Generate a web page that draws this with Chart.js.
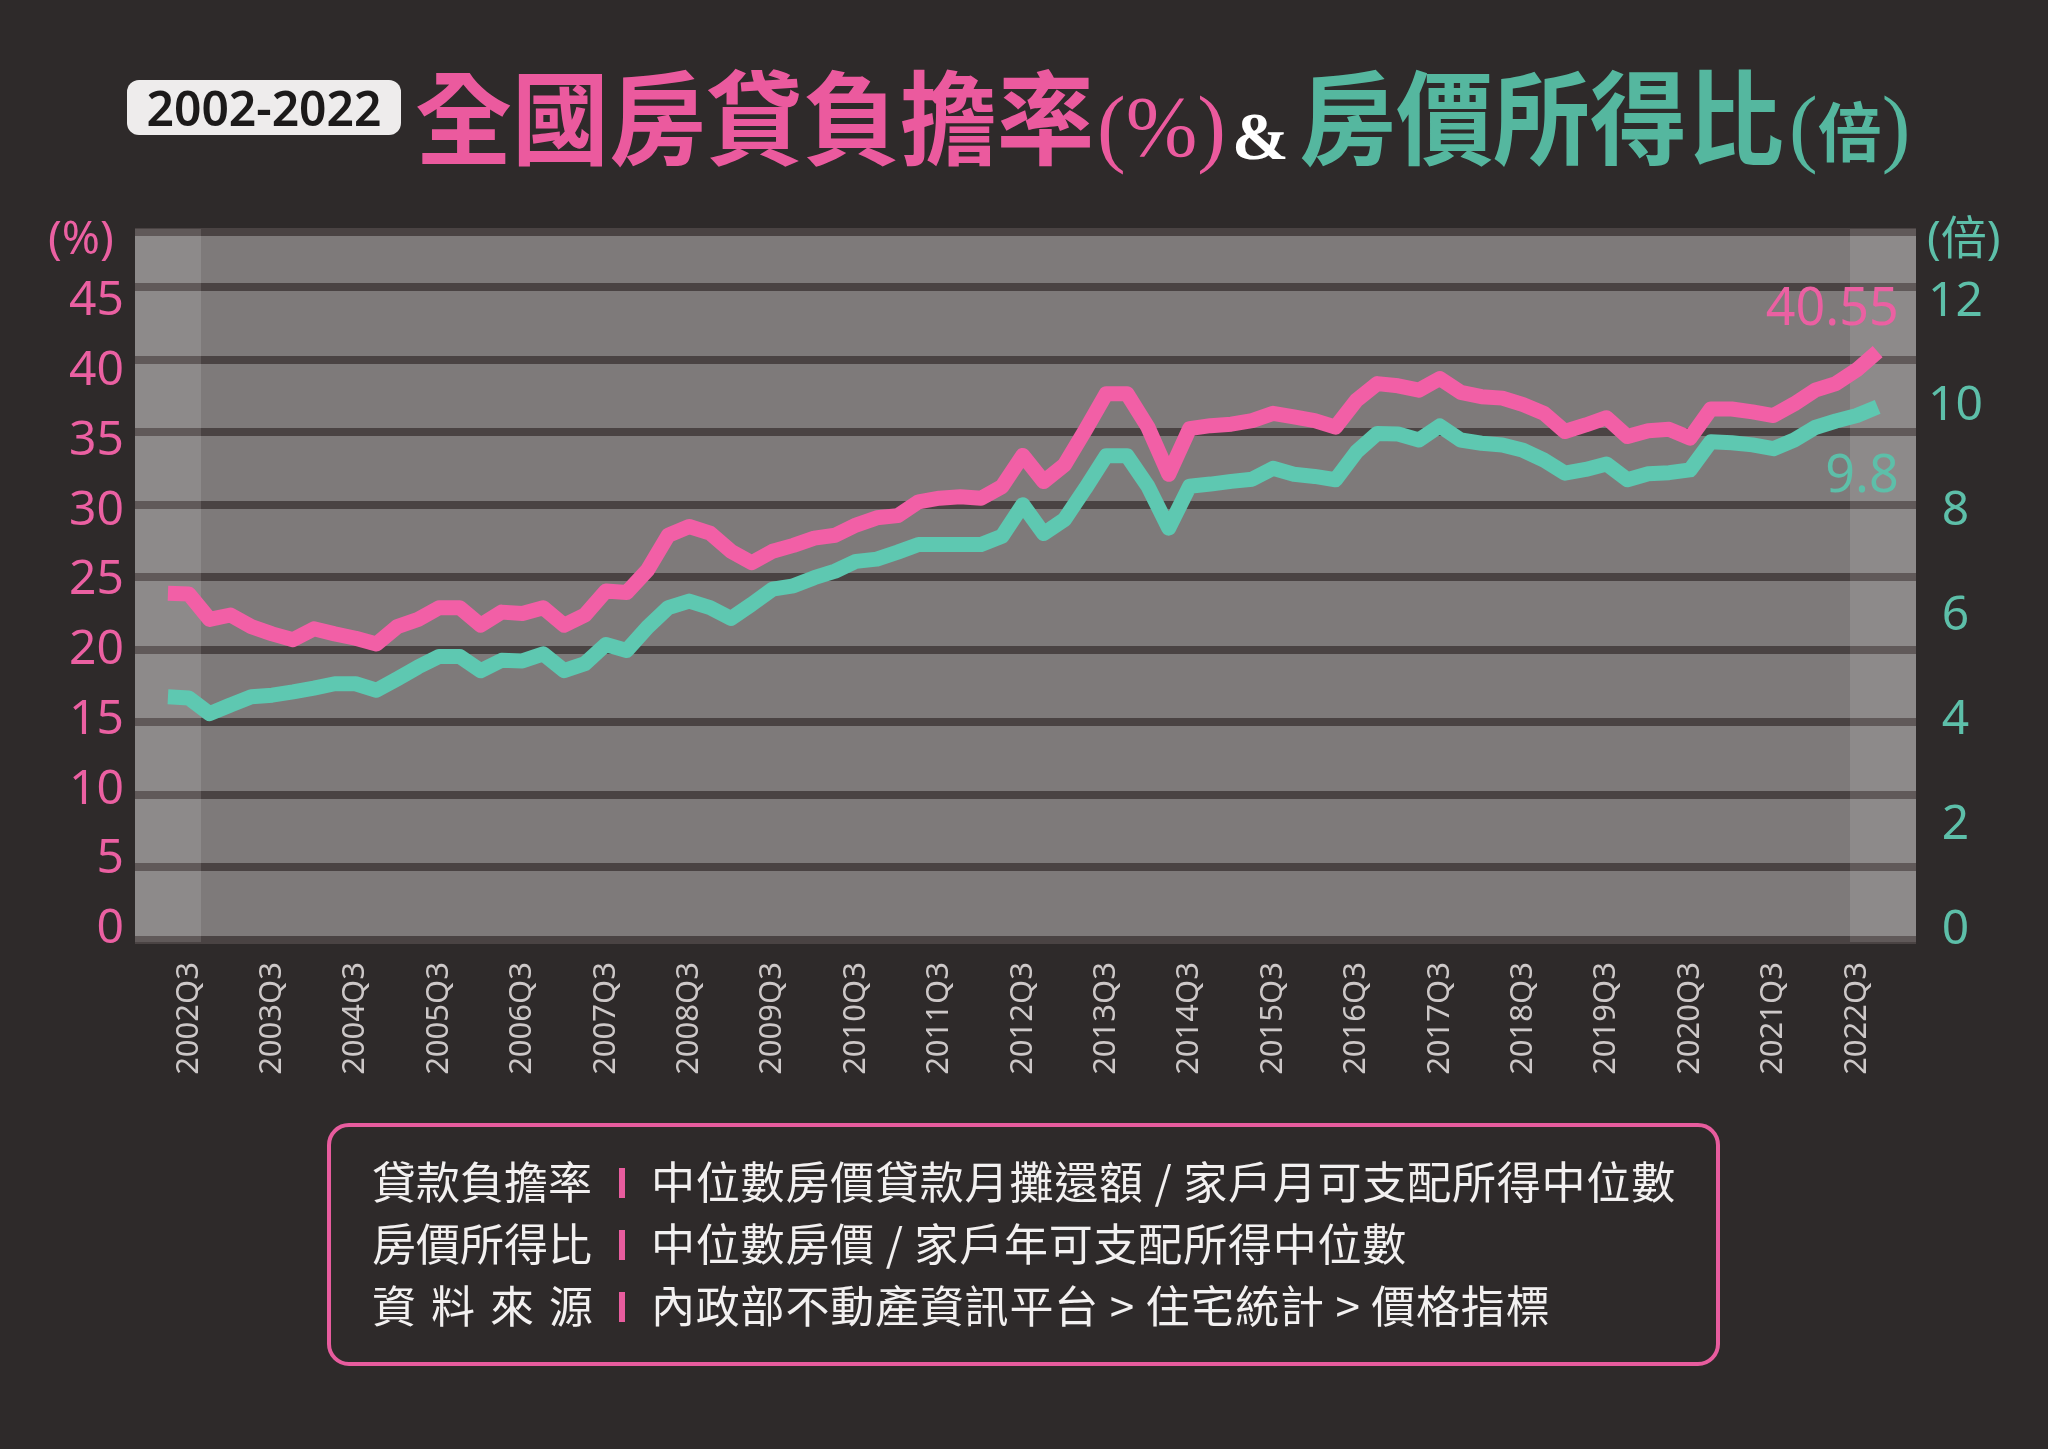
<!DOCTYPE html>
<html>
<head>
<meta charset="utf-8">
<script src="https://cdn.jsdelivr.net/npm/chart.js@4.4.1/dist/chart.umd.min.js"></script>
<style>
html,body{margin:0;padding:0;background:#2e2a2a;width:2048px;height:1449px;overflow:hidden;}
#c{position:absolute;left:0;top:0;width:2048px;height:1449px;}
.abs{position:absolute;white-space:nowrap;}
.badge{left:127px;top:80px;width:274px;height:55px;background:#eeecec;border-radius:12px;color:#1c1a1a;
  font:600 48px/55px "Noto Sans",sans-serif;text-align:center;}
.cjkT{font-family:"Noto Sans CJK TC";font-weight:700;font-size:97px;line-height:97px;transform:scaleY(1.06);transform-origin:50% 100%;}
.serif{font-family:"Liberation Serif",serif;font-size:86px;line-height:86px;}
.unit{font:46px/46px "Noto Sans","Noto Sans CJK TC",sans-serif;}
.box{left:327px;top:1123px;width:1393px;height:243px;border:4px solid #e85c9e;border-radius:22px;box-sizing:border-box;}
.row{font:44px/62px "Noto Sans CJK TC",sans-serif;color:#f2f0f0;}
.txt{letter-spacing:0.8px;}
.bar{width:6px;height:30px;background:#e85c9e;}
</style>
</head>
<body>
<canvas id="c" width="2048" height="1449"></canvas>

<div class="abs badge">2002-2022</div>
<div class="abs cjkT" style="left:415px;top:66px;color:#eb5a9e;">全國房貸負擔率</div>
<div class="abs serif" style="left:1097px;top:84px;color:#eb5a9e;">(%)</div>
<div class="abs" style="left:1232px;top:102px;color:#ffffff;font:700 68px/68px 'Liberation Serif',serif;">&amp;</div>
<div class="abs cjkT" style="left:1299px;top:66px;color:#55b79f;">房價所得比</div>
<div class="abs serif" style="left:1789px;top:84px;color:#55b79f;">(<span style="font-family:'Noto Sans CJK TC';font-size:64px;font-weight:700;">倍</span>)</div>

<div class="abs unit" style="left:48px;top:213px;color:#eb60a2;">(%)</div>
<div class="abs unit" style="left:1927px;top:213px;color:#5dbfa9;">(倍)</div>

<div class="abs box"></div>
<div class="abs row" style="left:372px;top:1149px;">貸款負擔率</div>
<div class="abs bar" style="left:619px;top:1168px;"></div>
<div class="abs row txt" style="left:651px;top:1149px;">中位數房價貸款月攤還額 / 家戶月可支配所得中位數</div>
<div class="abs row" style="left:372px;top:1211px;">房價所得比</div>
<div class="abs bar" style="left:619px;top:1230px;"></div>
<div class="abs row txt" style="left:651px;top:1211px;">中位數房價 / 家戶年可支配所得中位數</div>
<div class="abs row" style="left:372px;top:1273px;letter-spacing:15px;">資料來源</div>
<div class="abs bar" style="left:619px;top:1292px;"></div>
<div class="abs row txt" style="left:651px;top:1273px;">內政部不動產資訊平台 &gt; 住宅統計 &gt; 價格指標</div>

<script>
// ---- data ----
const quarters = [
 '2002Q2','2002Q3','2002Q4',
 '2003Q1','2003Q2','2003Q3','2003Q4',
 '2004Q1','2004Q2','2004Q3','2004Q4',
 '2005Q1','2005Q2','2005Q3','2005Q4',
 '2006Q1','2006Q2','2006Q3','2006Q4',
 '2007Q1','2007Q2','2007Q3','2007Q4',
 '2008Q1','2008Q2','2008Q3','2008Q4',
 '2009Q1','2009Q2','2009Q3','2009Q4',
 '2010Q1','2010Q2','2010Q3','2010Q4',
 '2011Q1','2011Q2','2011Q3','2011Q4',
 '2012Q1','2012Q2','2012Q3','2012Q4',
 '2013Q1','2013Q2','2013Q3','2013Q4',
 '2014Q1','2014Q2','2014Q3','2014Q4',
 '2015Q1','2015Q2','2015Q3','2015Q4',
 '2016Q1','2016Q2','2016Q3','2016Q4',
 '2017Q1','2017Q2','2017Q3','2017Q4',
 '2018Q1','2018Q2','2018Q3','2018Q4',
 '2019Q1','2019Q2','2019Q3','2019Q4',
 '2020Q1','2020Q2','2020Q3','2020Q4',
 '2021Q1','2021Q2','2021Q3','2021Q4',
 '2022Q1','2022Q2','2022Q3','2022Q4'
];

// 貸款負擔率 (%)
const loanBurden = [
 23.9, 23.85, 22.1,
 22.4, 21.6, 21.1, 20.7,
 21.45, 21.1, 20.8, 20.4,
 21.6, 22.1, 22.9, 22.9,
 21.7, 22.6, 22.5, 22.9,
 21.7, 22.4, 24.05, 23.95,
 25.5, 27.9, 28.5, 28.05,
 26.8, 26.0, 26.8, 27.2,
 27.7, 27.9, 28.6, 29.1,
 29.25, 30.2, 30.45, 30.55,
 30.45, 31.25, 33.4, 31.6,
 32.75, 35.15, 37.65, 37.65,
 35.35, 32.1, 35.25, 35.45,
 35.55, 35.8, 36.3, 36.05,
 35.8, 35.35, 37.2, 38.35,
 38.2, 37.9, 38.7, 37.75,
 37.45, 37.35, 36.9, 36.3,
 35.05, 35.5, 36.0, 34.7,
 35.1, 35.2, 34.6, 36.6,
 36.6, 36.4, 36.15, 36.95,
 37.9, 38.35, 39.3, 40.55
];

// 房價所得比 (倍)
const priceIncome = [
 4.47, 4.45, 4.16,
 4.32, 4.47, 4.5, 4.56,
 4.63, 4.71, 4.71, 4.59,
 4.8, 5.02, 5.21, 5.21,
 4.95, 5.14, 5.13, 5.26,
 4.95, 5.08, 5.43, 5.32,
 5.75, 6.11, 6.23, 6.11,
 5.91, 6.17, 6.45, 6.51,
 6.66, 6.78, 6.96, 7.0,
 7.13, 7.27, 7.27, 7.27,
 7.27, 7.42, 8.0, 7.47,
 7.73, 8.3, 8.9, 8.9,
 8.34, 7.57, 8.34, 8.38,
 8.43, 8.47, 8.67, 8.56,
 8.52, 8.46, 8.97, 9.31,
 9.3, 9.19, 9.45, 9.19,
 9.13, 9.1, 9.0, 8.82,
 8.58, 8.65, 8.75, 8.46,
 8.57, 8.59, 8.64, 9.16,
 9.14, 9.1, 9.03, 9.19,
 9.42, 9.54, 9.64, 9.8
];

const xTickQuarters = [
 '2002Q3','2003Q3','2004Q3','2005Q3','2006Q3','2007Q3','2008Q3',
 '2009Q3','2010Q3','2011Q3','2012Q3','2013Q3','2014Q3','2015Q3',
 '2016Q3','2017Q3','2018Q3','2019Q3','2020Q3','2021Q3','2022Q3'
];
const leftTickValues = [0, 5, 10, 15, 20, 25, 30, 35, 40, 45];
const rightTickValues = [0, 2, 4, 6, 8, 10, 12];

const endLabelLoan = '40.55';
const endLabelPrice = '9.8';

// ---- styles ----
const PINK = '#f25fa6', TEAL = '#5ec8b1';
const PINK_TXT = '#eb60a2', TEAL_TXT = '#5dbfa9';
const RATIO = 3.75;       // left % per right 倍
const LEFT_MAX = 48.8;    // data/grid scale top

const decor = {
  id: 'decor',
  beforeDraw(chart) {
    const {ctx, chartArea: a} = chart;
    ctx.save();
    ctx.fillStyle = '#7e7a7a';
    ctx.fillRect(a.left, a.top - 3, a.right - a.left, a.bottom - a.top + 5);
    ctx.restore();
  },
  beforeDatasetsDraw(chart) {
    const {ctx, chartArea: a} = chart;
    ctx.save();
    ctx.fillStyle = 'rgba(255,255,255,0.12)';
    ctx.fillRect(a.left, a.top - 3, 66, a.bottom - a.top + 5);
    ctx.fillRect(a.right - 66, a.top - 3, 66, a.bottom - a.top + 5);
    ctx.restore();
  },
  afterDatasetsDraw(chart) {
    const {ctx} = chart;
    const mp = chart.getDatasetMeta(1).data;
    const mt = chart.getDatasetMeta(0).data;
    const p = mp[mp.length - 1], t = mt[mt.length - 1];
    ctx.save();
    ctx.font = '52px "Noto Sans"';
    ctx.textAlign = 'right';
    ctx.textBaseline = 'alphabetic';
    ctx.fillStyle = PINK_TXT;
    ctx.fillText(endLabelLoan, p.x + 21, p.y - 27);
    ctx.fillStyle = TEAL_TXT;
    ctx.fillText(endLabelPrice, t.x + 21, t.y + 85);
    ctx.restore();
  }
};

const lineStyle = {borderWidth: 15, pointRadius: 0, tension: 0, borderJoinStyle: 'round', borderCapStyle: 'butt', fill: false};
const tickFont = {family: 'Noto Sans', size: 48};

new Chart(document.getElementById('c'), {
  type: 'line',
  data: {
    datasets: [
      Object.assign({label: '房價所得比', yAxisID: 'y1', borderColor: TEAL,
        data: priceIncome.map((v, i) => ({x: i, y: v}))}, lineStyle),
      Object.assign({label: '貸款負擔率', yAxisID: 'y', borderColor: PINK,
        data: loanBurden.map((v, i) => ({x: i, y: v}))}, lineStyle)
    ]
  },
  options: {
    responsive: false,
    animation: false,
    devicePixelRatio: 1,
    layout: {padding: {top: 232, left: 0, right: 0, bottom: 0}},
    plugins: {legend: {display: false}, tooltip: {enabled: false}},
    scales: {
      x: {
        type: 'linear', min: -1.58, max: 83.84,
        grid: {display: false, drawTicks: false}, border: {display: false},
        afterBuildTicks: (s) => { s.ticks = xTickQuarters.map(q => ({value: quarters.indexOf(q)})); },
        afterFit: (s) => { s.height = 509; },
        ticks: {autoSkip: false, minRotation: 90, maxRotation: 90, padding: 22,
          color: '#cdc8c8', font: {family: 'Noto Sans', size: 31},
          callback: (v) => quarters[v] || ''}
      },
      // data + grid scale for 貸款負擔率
      y: {
        position: 'left', min: 0, max: LEFT_MAX,
        grid: {color: '#4a4343', lineWidth: 8, drawTicks: false}, border: {display: false},
        afterFit: (s) => { s.width = 0; },
        ticks: {stepSize: 5, display: false}
      },
      // tick-label scale (%)
      yl: {
        position: 'left', min: -0.75, max: 50.0,
        grid: {display: false, drawTicks: false}, border: {display: false},
        afterBuildTicks: (s) => { s.ticks = leftTickValues.map(v => ({value: v})); },
        afterFit: (s) => { s.width = 135; },
        ticks: {padding: 11, color: PINK_TXT, font: tickFont}
      },
      // data scale for 房價所得比
      y1: {
        position: 'right', min: 0, max: LEFT_MAX / RATIO,
        grid: {display: false, drawTicks: false}, border: {display: false},
        afterFit: (s) => { s.width = 0; },
        ticks: {display: false}
      },
      // tick-label scale (倍)
      yr: {
        position: 'right', min: -0.19, max: 13.34,
        grid: {display: false, drawTicks: false}, border: {display: false},
        afterBuildTicks: (s) => { s.ticks = rightTickValues.map(v => ({value: v})); },
        afterFit: (s) => { s.width = 132; },
        ticks: {crossAlign: 'center', padding: 12, color: TEAL_TXT, font: tickFont}
      }
    }
  },
  plugins: [decor]
});
</script>
</body>
</html>
